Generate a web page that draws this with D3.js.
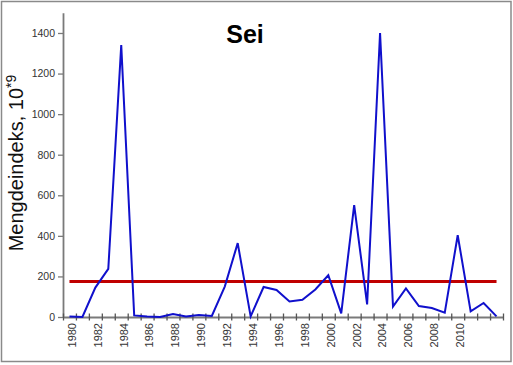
<!DOCTYPE html>
<html>
<head>
<meta charset="utf-8">
<script src="https://cdn.jsdelivr.net/npm/d3@7"></script>
<style>
  html, body { margin: 0; padding: 0; background: #fff; }
  svg { display: block; }
  text { font-family: Arial, "Liberation Sans", sans-serif; }
</style>
</head>
<body>
<svg id="chart" width="513" height="365"></svg>
<script>
const years = d3.range(1980, 2014);
const values = [3, 0, 145, 237, 1340, 8, 3, 0, 15, 2, 10, 5, 150, 364, 3, 148, 133, 77, 85, 136,
                206, 18, 551, 62, 1400, 51, 141, 54, 44, 21, 403, 28, 69, 3];
const meanValue = 175;
const yTicks = [0, 200, 400, 600, 800, 1000, 1200, 1400];
const xLabelYears = d3.range(1980, 2011, 2);
const title = "Sei";
const yLabel = "Mengdeindeks, 10";
const yLabelSup = "*9";

const svg = d3.select("#chart");

// outer frame
svg.append("rect").attr("x", 1.5).attr("y", 1.5).attr("width", 509.5).attr("height", 360)
  .attr("fill", "#fff").attr("stroke", "#8a8a8a").attr("stroke-width", 1.5);

const x = d3.scaleLinear().domain([1979.5, 2013.5]).range([63, 503]);
const y = d3.scaleLinear().domain([0, 1500]).range([317, 12.7]);

// y axis
const yAxis = svg.append("g").attr("transform", "translate(63,0)")
  .call(d3.axisLeft(y).tickValues(yTicks).tickFormat(d3.format("d")).tickSize(5).tickSizeOuter(0).tickPadding(3));
yAxis.select(".domain").attr("stroke", "#7a7a7a").attr("stroke-width", 1.8);
yAxis.selectAll(".tick line").attr("stroke", "#7a7a7a").attr("stroke-width", 1.3);
yAxis.selectAll(".tick text").attr("fill", "#333").style("font-size", "10.5px")
  .style("font-family", "Arial, 'Liberation Sans', sans-serif");

// x axis tick marks at category boundaries (crossing the axis)
const xTickVals = d3.range(1979.5, 2014, 1);
const xAxis = svg.append("g").attr("transform", "translate(0,317)")
  .call(d3.axisBottom(x).tickValues(xTickVals).tickFormat("").tickSize(7).tickSizeOuter(0));
xAxis.select(".domain").attr("stroke", "#7a7a7a").attr("stroke-width", 1.8);
xAxis.selectAll(".tick line").attr("stroke", "#555").attr("stroke-width", 1.3)
  .attr("transform", "translate(0,-3.5)");

// x labels
const xLab = svg.append("g").attr("transform", "translate(0,317)")
  .call(d3.axisBottom(x).tickValues(xLabelYears).tickFormat(d3.format("d")).tickSize(0));
xLab.select(".domain").remove();
xLab.selectAll(".tick text")
  .attr("fill", "#333").style("font-size", "11px")
  .style("font-family", "Arial, 'Liberation Sans', sans-serif")
  .attr("transform", "rotate(-90)")
  .attr("text-anchor", "end")
  .attr("x", -6).attr("y", 2).attr("dy", "0.35em");

// mean line
svg.append("line")
  .attr("x1", x(years[0])).attr("x2", x(years[years.length - 1]))
  .attr("y1", y(meanValue)).attr("y2", y(meanValue))
  .attr("stroke", "#c00000").attr("stroke-width", 3);

// data line
const line = d3.line().x((d, i) => x(years[i])).y(d => y(d));
svg.append("path").datum(values)
  .attr("d", line).attr("fill", "none")
  .attr("stroke", "#1010cc").attr("stroke-width", 2).attr("stroke-linejoin", "miter");

// title
svg.append("text").attr("x", 245).attr("y", 43).attr("text-anchor", "middle")
  .style("font-size", "25px").style("font-weight", "bold").attr("fill", "#000")
  .text(title);

// y label
const yl = svg.append("text")
  .attr("transform", "translate(23,163) rotate(-90)")
  .attr("text-anchor", "middle")
  .style("font-size", "20px").attr("fill", "#111");
yl.append("tspan").text(yLabel);
yl.append("tspan").attr("dy", "-7").style("font-size", "14px").text(yLabelSup);
</script>
</body>
</html>
